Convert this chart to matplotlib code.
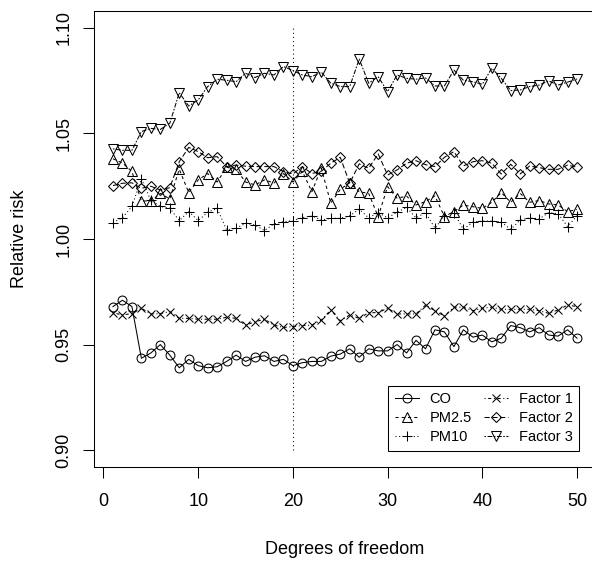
import numpy as np
import matplotlib
matplotlib.use("Agg")
import matplotlib.pyplot as plt

plt.rcParams['font.family'] = ['Liberation Sans', 'DejaVu Sans']

df = np.arange(1, 51)   # degrees of freedom

co = [0.968, 0.971, 0.968, 0.9435, 0.946, 0.950, 0.945, 0.939, 0.943, 0.940,
      0.939, 0.9395, 0.942, 0.945, 0.942, 0.944, 0.9447, 0.942, 0.943, 0.940,
      0.9414, 0.942, 0.942, 0.9445, 0.9455, 0.948, 0.944, 0.948, 0.947, 0.947,
      0.950, 0.946, 0.952, 0.948, 0.957, 0.956, 0.949, 0.957, 0.9535, 0.9545,
      0.9513, 0.953, 0.959, 0.958, 0.956, 0.958, 0.9545, 0.954, 0.957, 0.953]
pm25 = [1.038, 1.036, 1.032, 1.018, 1.018, 1.0216, 1.019, 1.033, 1.022, 1.028,
        1.031, 1.027, 1.034, 1.033, 1.027, 1.0256, 1.028, 1.0265, 1.031, 1.027,
        1.032, 1.0224, 1.0335, 1.017, 1.0235, 1.0267, 1.0224, 1.0216, 1.0106, 1.0248,
        1.0193, 1.0203, 1.0161, 1.0177, 1.0204, 1.0106, 1.013, 1.0161, 1.0153, 1.0145,
        1.0174, 1.022, 1.0174, 1.0216, 1.0174, 1.0182, 1.0166, 1.0161, 1.013, 1.014]
pm10 = [1.0078, 1.010, 1.0154, 1.0285, 1.0183, 1.0154, 1.0146, 1.0087, 1.013, 1.0087,
        1.0127, 1.0145, 1.0043, 1.0051, 1.0074, 1.0066, 1.004, 1.0072, 1.0082, 1.0087,
        1.0101, 1.0109, 1.009, 1.0098, 1.0098, 1.011, 1.0141, 1.010, 1.0125, 1.010,
        1.0127, 1.015, 1.010, 1.0125, 1.0051, 1.011, 1.0125, 1.0046, 1.008, 1.0085,
        1.0085, 1.008, 1.0046, 1.009, 1.010, 1.0095, 1.0125, 1.012, 1.0059, 1.011]
factor1 = [0.9651, 0.964, 0.9647, 0.9672, 0.9645, 0.9647, 0.9656, 0.9624, 0.9624, 0.962,
           0.962, 0.962, 0.9629, 0.9624, 0.9592, 0.9608, 0.962, 0.9592, 0.9581, 0.9585,
           0.959, 0.9592, 0.9616, 0.9664, 0.9613, 0.964, 0.9624, 0.9651, 0.9651, 0.9672,
           0.9645, 0.9645, 0.9645, 0.9687, 0.966, 0.9635, 0.9677, 0.9677, 0.966, 0.9672,
           0.9677, 0.9667, 0.9667, 0.9667, 0.9667, 0.966, 0.9648, 0.9664, 0.9687, 0.968]
factor2 = [1.0253, 1.0264, 1.0266, 1.024, 1.025, 1.0232, 1.0243, 1.0366, 1.0434, 1.0414,
           1.0385, 1.039, 1.0343, 1.035, 1.0345, 1.0343, 1.0343, 1.0343, 1.0319, 1.0308,
           1.0343, 1.031, 1.0321, 1.0359, 1.0387, 1.0264, 1.0356, 1.0335, 1.0403, 1.0303,
           1.0327, 1.0359, 1.0371, 1.0352, 1.0343, 1.0387, 1.0414, 1.0346, 1.0366, 1.0371,
           1.0359, 1.0308, 1.0354, 1.0308, 1.0346, 1.0338, 1.033, 1.033, 1.035, 1.034]
factor3 = [1.0427, 1.042, 1.042, 1.0509, 1.0524, 1.0519, 1.0548, 1.0693, 1.063, 1.0659,
           1.0722, 1.0757, 1.0752, 1.0745, 1.0785, 1.0765, 1.0785, 1.0777, 1.0817, 1.0798,
           1.0777, 1.0769, 1.079, 1.0738, 1.0722, 1.0722, 1.0852, 1.0738, 1.0769, 1.0698,
           1.0777, 1.0761, 1.0757, 1.0763, 1.0725, 1.0725, 1.080, 1.0752, 1.0745, 1.0733,
           1.0809, 1.0761, 1.0703, 1.0706, 1.0722, 1.0729, 1.0749, 1.0729, 1.0743, 1.0758]

names = ['CO', 'PM2.5', 'PM10', 'Factor 1', 'Factor 2', 'Factor 3']
series = [co, pm25, pm10, factor1, factor2, factor3]
yticks = [0.90, 0.95, 1.00, 1.05, 1.10]
xticks = [0, 10, 20, 30, 40, 50]
chosen_df = 20

# R style: pch 1..6, lty 1..6
markers = ['o', '^', '+', 'x', 'D', 'v']
msizes = [6.4, 7.2, 7.4, 6.0, 5.2, 7.2]
dashes = [None, (3, 3), (1, 2.5), (1, 2.5, 3, 2.5), (5, 2.5), (1.5, 1.5, 4.5, 1.5)]

fig = plt.figure(figsize=(5.92, 5.62), dpi=100)
# plot region is partly cut off on the right in the original
ax = fig.add_axes([94.4/592, 95/562, 501.2/592, 456/562])

for y, name, m, ms, d in zip(series, names, markers, msizes, dashes):
    line, = ax.plot(df, y, color='black', lw=0.75, marker=m, ms=ms,
                    mfc='none', mec='black', mew=0.75, label=name)
    if d is not None:
        line.set_dashes(d)

ax.plot([chosen_df, chosen_df], [yticks[0], yticks[-1]], color='black',
        lw=0.75, dashes=(1, 3))

ax.set_xlim(-0.96, 51.96)
ax.set_ylim(0.892, 1.108)
ax.set_xticks(xticks)
ax.set_xticklabels([str(v) for v in xticks])
ax.set_yticks(yticks)
ax.set_yticklabels(['%.2f' % v for v in yticks], rotation=90, va='center')
ax.tick_params(axis='both', direction='out', length=8, width=0.75,
               labelsize=13, color='black')
ax.tick_params(axis='x', pad=11)
ax.tick_params(axis='y', pad=8)
for s in ax.spines.values():
    s.set_linewidth(0.75)

fig.text(345/592, 1 - 550/562, 'Degrees of freedom', ha='center', va='center',
         fontsize=13)
fig.text(20/592, 1 - 239/562, 'Relative risk', ha='center', va='center',
         rotation=90, fontsize=13)

leg = ax.legend(ncol=2, loc='lower right', bbox_to_anchor=(579/592, 1 - 451/562),
                bbox_transform=fig.transFigure, borderaxespad=0, fontsize=10.5,
                fancybox=False, edgecolor='black', framealpha=1, numpoints=1,
                handlelength=1.7, handletextpad=0.7, columnspacing=0.8,
                labelspacing=0.35, borderpad=0.45)
leg.get_frame().set_linewidth(0.75)

fig.savefig('out.png', dpi=100)
